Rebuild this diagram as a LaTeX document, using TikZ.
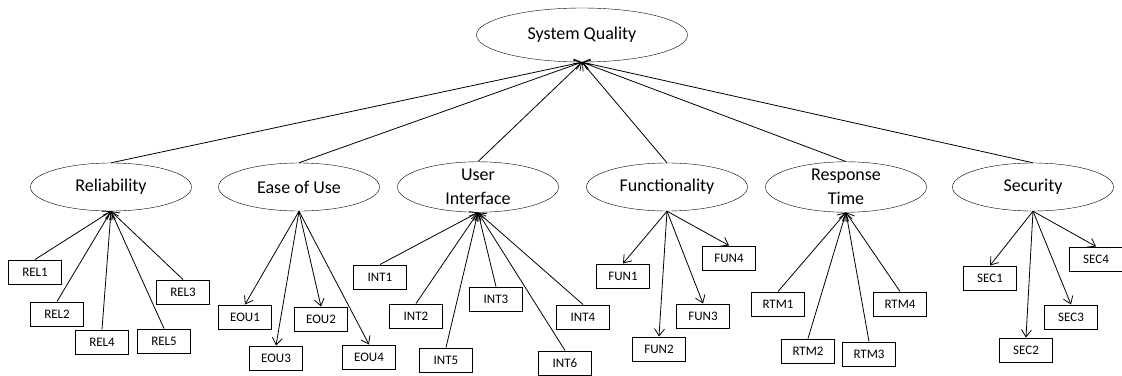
\documentclass[tikz,border=0pt]{standalone}
\usepackage{fontspec}
\setmainfont{Carlito}
\usetikzlibrary{arrows.meta,shapes.geometric}

\begin{document}
\begin{tikzpicture}[x=1pt, y=-1pt,
  factor/.style={draw, ellipse, minimum width=161pt, minimum height=48pt, inner sep=0pt, align=center, font=\fontsize{18}{24}\selectfont},
  item/.style={draw, line width=1pt, minimum width=53pt, minimum height=24pt, inner sep=0pt, font=\fontsize{13}{15}\selectfont},
  link/.style={line width=0.8pt, -{Straight Barb[length=7pt,width=10pt]}}]
\useasboundingbox (0,0) rectangle (1122,375);
\node[factor, minimum width=211pt, minimum height=54pt] (sq) at (582,35) {System Quality};
\foreach \n/\x/\t in {rel/111/Reliability, eou/299/Ease of Use, int/478/User\\Interface, fun/667/Functionality, rtm/846/Response\\Time, sec/1033/Security} {
  \node[factor] (\n) at (\x,187) {\t};
  \draw[link] (\n.north) -- (sq.south);
}
% measures pointing up to their factor
\foreach \m/\x/\y/\p in {REL1/35/272/rel, REL2/57/314/rel, REL3/183/292/rel, REL4/102/342/rel, REL5/164/341/rel,
  INT1/380/277/int, INT2/416/316/int, INT3/496/299/int, INT4/583/317/int, INT5/446/360/int, INT6/565/363/int,
  RTM1/778/304/rtm, RTM2/808/351/rtm, RTM3/869/354/rtm, RTM4/900/304/rtm} {
  \node[item] (\m) at (\x,\y) {\m};
  \draw[link] (\m.north) -- (\p.south);
}
% measures pointed at by their factor
\foreach \m/\x/\y/\p in {EOU1/245/317/eou, EOU2/321/319/eou, EOU3/276/358/eou, EOU4/369/357/eou,
  FUN1/623/276/fun, FUN2/659/349/fun, FUN3/703/316/fun, FUN4/729/258/fun,
  SEC1/990/278/sec, SEC2/1026/350/sec, SEC3/1071/317/sec, SEC4/1096/259/sec} {
  \node[item] (\m) at (\x,\y) {\m};
  \draw[link] (\p.south) -- (\m.north);
}
\end{tikzpicture}
\end{document}
